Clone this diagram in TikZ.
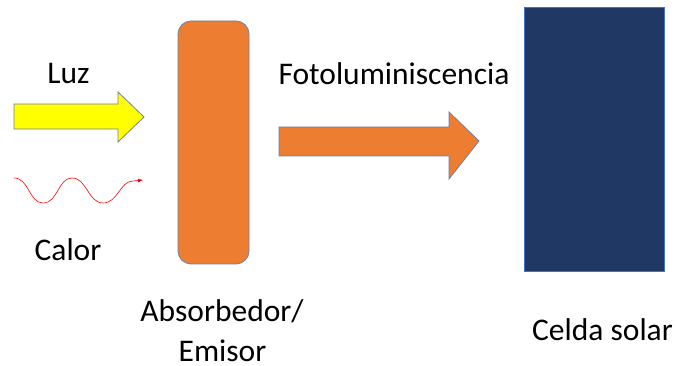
\documentclass[tikz,border=0pt]{standalone}
\usepackage{fontspec}
\usetikzlibrary{arrows.meta}
\setmainfont{Carlito}
\begin{document}
\begin{tikzpicture}[x=1pt,y=-1pt,
  lbl/.style={font=\fontsize{31.5}{38}\selectfont, text=black, inner sep=0pt, anchor=base}]
\useasboundingbox (0,0) rectangle (678,366);
\definecolor{orng}{HTML}{ED7D31}
\definecolor{navy}{HTML}{203864}
\definecolor{lblue}{HTML}{4472C4}
\definecolor{ylw}{HTML}{FFFF00}
\definecolor{edge}{HTML}{6F7FA8}

% incoming light
\path[fill=ylw, draw=edge, line width=0.8pt]
  (14,104) -- (118,104) -- (118,92) -- (144,117) -- (118,142) -- (118,129) -- (14,129) -- cycle;
\node[lbl] (luz) at (68.5,84) {Luz};

% heat wave
\coordinate (w0) at (14,178);
\coordinate (w1) at (133,181);
\draw[red, line width=0.6pt, -{Latex[length=5pt,width=4pt]}]
  (w0) .. controls (29,178) and (29,203) .. (43,203)
       .. controls (58,203) and (58,178) .. (72,178)
       .. controls (87,178) and (88,203) .. (103,203)
       .. controls (118,203) and (120,181) .. (w1) -- (143,180);
\node[lbl] (calor) at (68,261) {Calor};

% absorber / emitter
\node[draw=edge, fill=orng, line width=0.8pt, rounded corners=13pt,
      minimum width=71pt, minimum height=243pt, inner sep=0pt] (abs) at (213.5,142.5) {};
\node[lbl] (abslbl) at (222,322) {Absorbedor/};
\node[lbl] (emilbl) at (222.5,362) {Emisor};

% photoluminescence
\path[fill=orng, draw=edge, line width=0.8pt]
  (279,127) -- (449,127) -- (449,112) -- (479,141) -- (449,179) -- (449,156) -- (279,156) -- cycle;
\node[lbl] (foto) at (394,85) {Fotoluminiscencia};

% solar cell
\node[draw=lblue, fill=navy, line width=0.6pt, minimum width=140pt, minimum height=264pt,
      inner sep=0pt] (cell) at (594,139) {};
\node[lbl] (celda) at (602.5,341) {Celda solar};
\end{tikzpicture}
\end{document}
